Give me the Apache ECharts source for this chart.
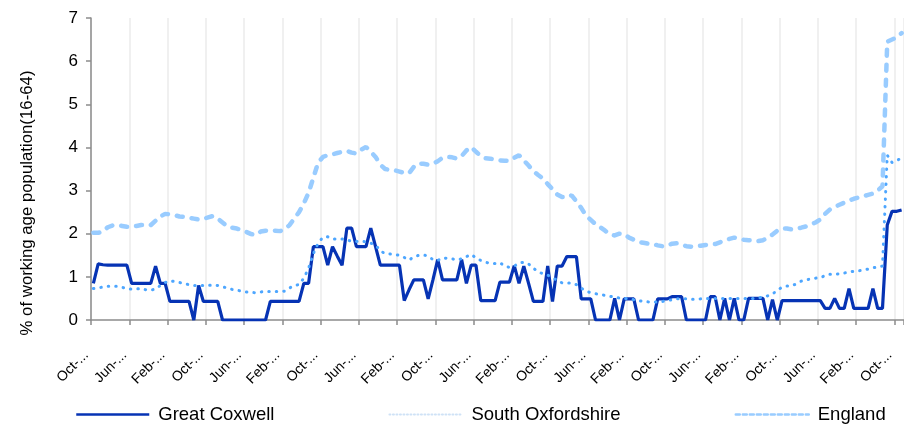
<!DOCTYPE html>
<html>
<head>
<meta charset="utf-8">
<script src="https://cdn.jsdelivr.net/npm/echarts@6/dist/echarts.min.js"></script>
<style>
html,body{margin:0;padding:0;background:#fff;}
#chart{width:904px;height:425px;}
</style>
</head>
<body>
<div id="chart"></div>
<script>
const categories = [
'Oct-05','Nov-05','Dec-05',
'Jan-06','Feb-06','Mar-06','Apr-06','May-06','Jun-06','Jul-06','Aug-06','Sep-06','Oct-06','Nov-06','Dec-06',
'Jan-07','Feb-07','Mar-07','Apr-07','May-07','Jun-07','Jul-07','Aug-07','Sep-07','Oct-07','Nov-07','Dec-07',
'Jan-08','Feb-08','Mar-08','Apr-08','May-08','Jun-08','Jul-08','Aug-08','Sep-08','Oct-08','Nov-08','Dec-08',
'Jan-09','Feb-09','Mar-09','Apr-09','May-09','Jun-09','Jul-09','Aug-09','Sep-09','Oct-09','Nov-09','Dec-09',
'Jan-10','Feb-10','Mar-10','Apr-10','May-10','Jun-10','Jul-10','Aug-10','Sep-10','Oct-10','Nov-10','Dec-10',
'Jan-11','Feb-11','Mar-11','Apr-11','May-11','Jun-11','Jul-11','Aug-11','Sep-11','Oct-11','Nov-11','Dec-11',
'Jan-12','Feb-12','Mar-12','Apr-12','May-12','Jun-12','Jul-12','Aug-12','Sep-12','Oct-12','Nov-12','Dec-12',
'Jan-13','Feb-13','Mar-13','Apr-13','May-13','Jun-13','Jul-13','Aug-13','Sep-13','Oct-13','Nov-13','Dec-13',
'Jan-14','Feb-14','Mar-14','Apr-14','May-14','Jun-14','Jul-14','Aug-14','Sep-14','Oct-14','Nov-14','Dec-14',
'Jan-15','Feb-15','Mar-15','Apr-15','May-15','Jun-15','Jul-15','Aug-15','Sep-15','Oct-15','Nov-15','Dec-15',
'Jan-16','Feb-16','Mar-16','Apr-16','May-16','Jun-16','Jul-16','Aug-16','Sep-16','Oct-16','Nov-16','Dec-16',
'Jan-17','Feb-17','Mar-17','Apr-17','May-17','Jun-17','Jul-17','Aug-17','Sep-17','Oct-17','Nov-17','Dec-17',
'Jan-18','Feb-18','Mar-18','Apr-18','May-18','Jun-18','Jul-18','Aug-18','Sep-18','Oct-18','Nov-18','Dec-18',
'Jan-19','Feb-19','Mar-19','Apr-19','May-19','Jun-19','Jul-19','Aug-19','Sep-19','Oct-19','Nov-19'
];

const greatCoxwell = [
0.85,1.30,1.28,1.27,1.27,1.27,1.27,1.27,0.85,0.85,
0.85,0.85,0.85,1.25,0.85,0.85,0.43,0.43,0.43,0.43,
0.43,0,0.8,0.43,0.43,0.43,0.43,0,0,0,
0,0,0,0,0,0,0,0.43,0.43,0.43,
0.43,0.43,0.43,0.43,0.85,0.85,1.7,1.7,1.7,1.27,
1.7,1.48,1.27,2.13,2.13,1.7,1.7,1.7,2.13,1.7,
1.27,1.27,1.27,1.27,1.27,0.45,0.7,0.93,0.93,0.93,
0.49,0.93,1.4,0.93,0.93,0.93,0.93,1.4,0.85,1.27,
1.27,0.45,0.45,0.45,0.45,0.88,0.88,0.88,1.26,0.85,
1.25,0.85,0.43,0.43,0.43,1.25,0.43,1.25,1.25,1.47,
1.47,1.47,0.49,0.49,0.49,0,0,0,0,0.5,
0,0.49,0.49,0.49,0,0,0,0,0.49,0.49,
0.49,0.54,0.54,0.54,0,0,0,0,0,0.54,
0.54,0,0.5,0,0.5,0,0,0.5,0.5,0.5,
0.5,0,0.47,0,0.45,0.45,0.45,0.45,0.45,0.45,
0.45,0.45,0.45,0.27,0.27,0.5,0.27,0.27,0.73,0.27,
0.27,0.27,0.27,0.73,0.27,0.27,2.2,2.52,2.52,2.55
];

const southOxfordshire = [
0.73,0.75,0.76,0.78,0.78,0.78,0.76,0.72,0.72,0.72,
0.73,0.70,0.69,0.72,0.80,0.87,0.91,0.89,0.87,0.84,
0.82,0.80,0.80,0.80,0.80,0.81,0.80,0.77,0.74,0.71,
0.69,0.67,0.65,0.64,0.63,0.65,0.66,0.66,0.66,0.66,
0.67,0.74,0.80,0.82,0.97,1.20,1.54,1.78,1.92,1.93,
1.88,1.88,1.88,1.86,1.82,1.82,1.83,1.81,1.78,1.74,
1.60,1.54,1.53,1.52,1.50,1.45,1.39,1.46,1.50,1.51,
1.48,1.40,1.38,1.44,1.43,1.42,1.39,1.42,1.47,1.52,
1.44,1.38,1.34,1.31,1.31,1.33,1.25,1.22,1.25,1.32,
1.34,1.30,1.20,1.12,1.07,1.04,0.98,0.92,0.86,0.86,
0.86,0.82,0.74,0.67,0.63,0.61,0.59,0.57,0.55,0.53,
0.51,0.50,0.49,0.47,0.45,0.43,0.42,0.41,0.42,0.43,
0.45,0.47,0.49,0.49,0.49,0.48,0.48,0.49,0.50,0.49,
0.50,0.50,0.50,0.50,0.50,0.50,0.50,0.50,0.50,0.51,
0.53,0.56,0.60,0.69,0.76,0.79,0.79,0.84,0.90,0.93,
0.95,0.97,0.98,1.03,1.06,1.06,1.07,1.09,1.11,1.13,
1.14,1.16,1.18,1.21,1.23,1.25,3.82,3.65,3.70,3.75
];

const england = [
2.02,2.02,2.05,2.15,2.19,2.20,2.18,2.16,2.17,2.18,
2.20,2.20,2.20,2.30,2.40,2.46,2.45,2.43,2.40,2.39,
2.37,2.35,2.33,2.34,2.38,2.41,2.35,2.26,2.17,2.14,
2.12,2.08,2.04,1.99,1.97,2.05,2.07,2.08,2.07,2.06,
2.10,2.20,2.35,2.50,2.70,2.95,3.30,3.65,3.78,3.82,
3.84,3.87,3.90,3.92,3.88,3.86,3.95,4.01,3.90,3.78,
3.60,3.50,3.48,3.47,3.44,3.41,3.40,3.55,3.63,3.62,
3.60,3.62,3.68,3.76,3.78,3.77,3.74,3.80,3.93,4.01,
3.90,3.80,3.75,3.74,3.72,3.70,3.69,3.69,3.76,3.82,
3.70,3.58,3.45,3.36,3.28,3.15,3.03,2.91,2.85,2.84,
2.89,2.75,2.60,2.42,2.32,2.22,2.15,2.07,1.98,1.96,
2.00,1.99,1.91,1.86,1.81,1.79,1.77,1.76,1.73,1.71,
1.72,1.77,1.78,1.75,1.71,1.70,1.71,1.72,1.74,1.75,
1.76,1.80,1.84,1.88,1.91,1.89,1.86,1.85,1.84,1.83,
1.85,1.90,1.98,2.07,2.12,2.12,2.10,2.12,2.14,2.17,
2.22,2.26,2.33,2.46,2.56,2.62,2.67,2.72,2.77,2.81,
2.84,2.87,2.90,2.93,3.00,3.10,6.45,6.50,6.55,6.65
];

const seriesNames = ['Great Coxwell', 'South Oxfordshire', 'England'];
const yAxisTitle = '% of working age population(16-64)';

const FONT = '"Liberation Sans", Arial, sans-serif';
const AXIS_GREY = '#8c8c8c';

const chart = echarts.init(document.getElementById('chart'), null, {renderer: 'canvas'});
chart.setOption({
  animation: false,
  backgroundColor: '#ffffff',
  textStyle: {fontFamily: FONT},
  grid: {left: 91, top: 18, width: 814, height: 302, containLabel: false},
  graphic: [{
    type: 'text',
    x: 27, y: 203,
    rotation: Math.PI / 2,
    style: {
      text: yAxisTitle,
      font: '16.8px ' + FONT,
      fill: '#000',
      align: 'center',
      verticalAlign: 'middle'
    }
  }],
  legend: {
    left: 75,
    top: 405,
    padding: 0,
    itemWidth: 73,
    itemHeight: 18,
    itemGap: 114,
    itemStyle: {opacity: 0},
    textStyle: {fontSize: 18.5, color: '#000', fontFamily: FONT, padding: [0, 0, 0, 4]},
    data: [
      {name: seriesNames[0], lineStyle: {color: '#0633b4', width: 2.5, type: 'solid'}},
      {name: seriesNames[1], lineStyle: {color: '#cfe2f6', width: 2, type: [1, 2.5]}},
      {name: seriesNames[2], lineStyle: {color: '#99ccff', width: 2.5, type: [4, 3]}}
    ]
  },
  xAxis: {
    type: 'category',
    data: categories,
    boundaryGap: true,
    axisLine: {lineStyle: {color: AXIS_GREY, width: 1.5}},
    axisTick: {show: true, interval: 7, length: 5, lineStyle: {color: AXIS_GREY, width: 1.5}},
    axisLabel: {
      interval: 7,
      rotate: 45,
      margin: 26,
      padding: [0, 10, 0, 0],
      fontSize: 14,
      color: '#000',
      fontFamily: FONT,
      formatter: function (v) { return v.split('-')[0] + '-...'; }
    },
    splitLine: {show: true, interval: 7, lineStyle: {color: '#ebebeb', width: 1.5}}
  },
  yAxis: {
    type: 'value',
    min: 0,
    max: 7,
    interval: 1,
    axisLine: {show: true, lineStyle: {color: AXIS_GREY, width: 1.5}},
    axisTick: {show: true, length: 5, lineStyle: {color: AXIS_GREY, width: 1.5}},
    axisLabel: {fontSize: 17, color: '#000', margin: 13, fontFamily: FONT},
    splitLine: {show: false}
  },
  series: [
    {
      name: seriesNames[0], type: 'line', data: greatCoxwell, symbol: 'none',
      lineStyle: {color: '#0633b4', width: 3.2},
      itemStyle: {color: '#0633b4'}
    },
    {
      name: seriesNames[1], type: 'line', data: southOxfordshire, symbol: 'none',
      lineStyle: {color: '#4da6ff', width: 3, type: [0.5, 7], cap: 'round'},
      itemStyle: {color: '#4da6ff'}
    },
    {
      name: seriesNames[2], type: 'line', data: england, symbol: 'none',
      lineStyle: {color: '#99ccff', width: 4.5, type: [6, 9], cap: 'round'},
      itemStyle: {color: '#99ccff'}
    }
  ]
});
</script>
</body>
</html>
